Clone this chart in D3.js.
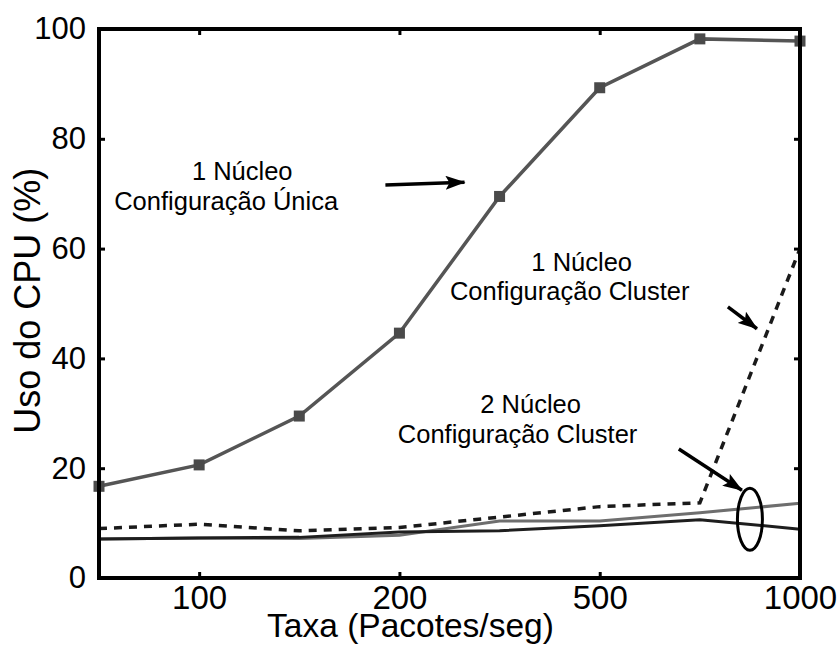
<!DOCTYPE html>
<html>
<head>
<meta charset="utf-8">
<script src="https://cdn.jsdelivr.net/npm/d3@7"></script>
<style>
  body { margin: 0; background: #fff; }
  svg { display: block; }
</style>
</head>
<body>
<svg></svg>
<script>
// taxa de pacotes (categorias do eixo x)
const rates = [50, 100, 150, 200, 300, 500, 700, 1000];
const xTicks = [100, 200, 500, 1000];
const yTicks = [0, 20, 40, 60, 80, 100];

// uso de CPU (%) por serie
const unicaCpu = [16.7, 20.6, 29.5, 44.6, 69.5, 89.3, 98.2, 97.8];
const cluster1Cpu = [9.0, 9.8, 8.6, 9.2, 11.1, 13.0, 13.7, 60.0];
const cluster2CpuA = [7.1, 7.3, 7.4, 8.4, 8.6, 9.5, 10.6, 8.9];
const cluster2CpuB = [7.1, 7.3, 7.2, 7.8, 10.4, 10.4, 11.9, 13.6];

const width = 840;
const height = 645;
const margin = { top: 29, right: 40, bottom: 67, left: 99 };
const font = "'Liberation Sans', Arial, Helvetica, sans-serif";

const svg = d3.select("svg").attr("width", width).attr("height", height);

const xScale = d3.scalePoint().domain(rates).range([margin.left, width - margin.right]);
// posicao fracionaria (indice) para as anotacoes
const xIdx = d3.scaleLinear().domain([0, rates.length - 1]).range([margin.left, width - margin.right]);
const yScale = d3.scaleLinear().domain([0, 100]).range([height - margin.bottom, margin.top]);

const line = d3.line()
  .x((d, i) => xScale(rates[i]))
  .y((d) => yScale(d));

// linhas
svg.append("path")
  .datum(cluster2CpuB)
  .attr("fill", "none")
  .attr("stroke", "#6e6e6e")
  .attr("stroke-width", 3)
  .attr("d", line);

svg.append("path")
  .datum(cluster2CpuA)
  .attr("fill", "none")
  .attr("stroke", "#1e1e1e")
  .attr("stroke-width", 3)
  .attr("d", line);

svg.append("path")
  .datum(cluster1Cpu)
  .attr("fill", "none")
  .attr("stroke", "#1a1a1a")
  .attr("stroke-width", 3.5)
  .attr("stroke-dasharray", "8,7")
  .attr("d", line);

svg.append("path")
  .datum(unicaCpu)
  .attr("fill", "none")
  .attr("stroke", "#555")
  .attr("stroke-width", 3.5)
  .attr("d", line);

const sq = 11;
svg.selectAll(".marker")
  .data(unicaCpu)
  .enter()
  .append("rect")
  .attr("class", "marker")
  .attr("x", (d, i) => xScale(rates[i]) - sq / 2)
  .attr("y", (d) => yScale(d) - sq / 2)
  .attr("width", sq)
  .attr("height", sq)
  .attr("fill", "#4a4a4a");

// eixos com ticks para dentro
const styleAxis = (size) => (g) => {
  g.select(".domain").remove();
  g.selectAll("line").attr("stroke", "#000").attr("stroke-width", 3);
  g.selectAll("text").attr("font-family", font).attr("font-size", size).attr("fill", "#000");
};

svg.append("g")
  .attr("transform", `translate(0, ${height - margin.bottom})`)
  .call(d3.axisBottom(xScale).tickValues(xTicks).tickSizeInner(-6).tickSizeOuter(0).tickPadding(8))
  .call(styleAxis(33));

svg.append("g")
  .attr("transform", `translate(0, ${margin.top})`)
  .call(d3.axisTop(xScale).tickValues(xTicks).tickSizeInner(-6).tickSizeOuter(0).tickFormat(""))
  .call(styleAxis(33));

svg.append("g")
  .attr("transform", `translate(${margin.left}, 0)`)
  .call(d3.axisLeft(yScale).tickValues(yTicks).tickSizeInner(-6).tickSizeOuter(0).tickPadding(13))
  .call(styleAxis(31));

svg.append("g")
  .attr("transform", `translate(${width - margin.right}, 0)`)
  .call(d3.axisRight(yScale).tickValues(yTicks).tickSizeInner(-6).tickSizeOuter(0).tickFormat(""))
  .call(styleAxis(31));

svg.append("rect")
  .attr("x", margin.left)
  .attr("y", margin.top)
  .attr("width", width - margin.left - margin.right)
  .attr("height", height - margin.top - margin.bottom)
  .attr("fill", "none")
  .attr("stroke", "#000")
  .attr("stroke-width", 4);

// titulos dos eixos
svg.append("text")
  .attr("x", xIdx(3.11))
  .attr("y", 637)
  .attr("text-anchor", "middle")
  .attr("font-family", font)
  .attr("font-size", 33.5)
  .text("Taxa (Pacotes/seg)");

svg.append("text")
  .attr("transform", `translate(40, ${yScale(50.5)}) rotate(-90)`)
  .attr("text-anchor", "middle")
  .attr("font-family", font)
  .attr("font-size", 36)
  .text("Uso do CPU (%)");

// anotacoes (indice, valor)
const labels = [
  { t: "1 Núcleo", i: 1.43, v: 72.5 },
  { t: "Configuração Única", i: 1.27, v: 67.0 },
  { t: "1 Núcleo", i: 4.82, v: 55.9 },
  { t: "Configuração Cluster", i: 4.70, v: 50.6 },
  { t: "2 Núcleo", i: 4.31, v: 30.1 },
  { t: "Configuração Cluster", i: 4.18, v: 24.6 }
];

svg.selectAll(".note")
  .data(labels)
  .enter()
  .append("text")
  .attr("class", "note")
  .attr("x", (d) => xIdx(d.i))
  .attr("y", (d) => yScale(d.v))
  .attr("text-anchor", "middle")
  .attr("font-family", font)
  .attr("font-size", 25.5)
  .text((d) => d.t);

const arrows = [
  { i1: 2.86, v1: 71.6, i2: 3.65, v2: 72.1 },
  { i1: 6.28, v1: 49.4, i2: 6.57, v2: 45.4 },
  { i1: 5.79, v1: 23.5, i2: 6.42, v2: 16.0 }
];

svg.append("defs")
  .append("marker")
  .attr("id", "head")
  .attr("viewBox", "0 0 20 14")
  .attr("refX", 19)
  .attr("refY", 7)
  .attr("markerWidth", 20 / 3.5)
  .attr("markerHeight", 14 / 3.5)
  .attr("markerUnits", "strokeWidth")
  .attr("orient", "auto")
  .append("path")
  .attr("d", "M0,0 L20,7 L0,14 L4,7 Z")
  .attr("fill", "#000");

svg.selectAll(".arrow")
  .data(arrows)
  .enter()
  .append("line")
  .attr("class", "arrow")
  .attr("x1", (d) => xIdx(d.i1))
  .attr("y1", (d) => yScale(d.v1))
  .attr("x2", (d) => xIdx(d.i2))
  .attr("y2", (d) => yScale(d.v2))
  .attr("stroke", "#000")
  .attr("stroke-width", 3.5)
  .attr("marker-end", "url(#head)");

svg.append("ellipse")
  .attr("cx", xIdx(6.5))
  .attr("cy", yScale(10.7))
  .attr("rx", 12.5)
  .attr("ry", 31)
  .attr("fill", "none")
  .attr("stroke", "#000")
  .attr("stroke-width", 3);
</script>
</body>
</html>
